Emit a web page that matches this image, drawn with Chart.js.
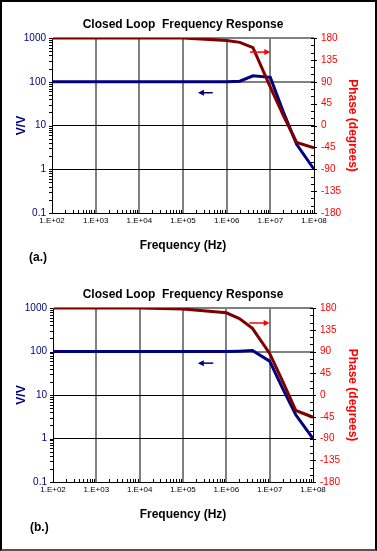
<!DOCTYPE html>
<html>
<head>
<meta charset="utf-8">
<script src="https://cdn.jsdelivr.net/npm/chart.js@4.4.1/dist/chart.umd.min.js"></script>
<style>
  html, body { margin: 0; padding: 0; background: #fff; }
  #frame {
    position: absolute; left: 0; top: 0; width: 377px; height: 551px;
    box-sizing: border-box; border: 2px solid #000; border-bottom-color: #555;
  }
  canvas { position: absolute; left: 0; }
</style>
</head>
<body>
<div id="frame">
  <canvas id="chartA" width="373" height="273" style="top:0"></canvas>
  <canvas id="chartB" width="373" height="274" style="top:273px"></canvas>
</div>
<script>
const freqHz = [1e2, 1e3, 1e4, 1e5, 1e6, 2e6, 4e6, 1e7, 2e7, 4e7, 1e8];

// (a.)
const gainA = [100, 100, 100, 100, 100, 103, 137, 126, 20, 3.7, 1.0];
const phaseA = [180, 180, 180, 180, 175, 171, 160, 79, 20, -35, -46];
// (b.)
const gainB = [100, 100, 100, 100, 100, 102, 105, 60, 14, 3.5, 1.0];
const phaseB = [180, 180, 180, 178, 170, 158, 138, 86, 28, -32, -46];

const xDecades = [1e2, 1e3, 1e4, 1e5, 1e6, 1e7, 1e8];
const gainDecades = [0.1, 1, 10, 100, 1000];

// arrow annotations, in data units: [freq from, freq to, value]
const phaseArrowA = [3.4e6, 1e7, 151];
const gainArrowA = [4.8e5, 2.2e5, 56];
const phaseArrowB = [3.4e6, 1e7, 149];
const gainArrowB = [5e5, 2.2e5, 54];

const NAVY = '#000080';
const MAROON = '#800000';
const RED = '#ff0000';
const FONT = "'Liberation Sans', Arial, sans-serif";

Chart.defaults.font.family = FONT;

function arrow(ctx, x1, x2, y, color) {
  const dir = Math.sign(x2 - x1);
  ctx.save();
  ctx.strokeStyle = color;
  ctx.fillStyle = color;
  ctx.lineWidth = 1.5;
  ctx.beginPath();
  ctx.moveTo(x1, y);
  ctx.lineTo(x2 - dir * 4, y);
  ctx.stroke();
  ctx.beginPath();
  ctx.moveTo(x2, y);
  ctx.lineTo(x2 - dir * 6, y - 3);
  ctx.lineTo(x2 - dir * 6, y + 3);
  ctx.closePath();
  ctx.fill();
  ctx.restore();
}

const decorPlugin = {
  id: 'decor',
  afterDraw(chart, args, opts) {
    const {ctx, chartArea: a} = chart;
    const x = chart.scales.x, y = chart.scales.y, y2 = chart.scales.y2;
    ctx.save();
    ctx.strokeStyle = '#000';
    ctx.lineWidth = 1;
    ctx.beginPath();
    // left axis ticks (outside)
    for (let d = 0.1; d < 1000; d *= 10) {
      for (let m = 1; m < 10; m++) {
        const py = Math.round(y.getPixelForValue(m * d)) + 0.5;
        ctx.moveTo(a.left - 3, py); ctx.lineTo(a.left, py);
      }
    }
    const ty = Math.round(y.getPixelForValue(1000)) + 0.5;
    ctx.moveTo(a.left - 3, ty); ctx.lineTo(a.left, ty);
    // bottom axis minor ticks (inside)
    for (let d = 1e2; d < 1e8; d *= 10) {
      for (let m = 2; m < 10; m++) {
        const px = Math.round(x.getPixelForValue(m * d)) + 0.5;
        ctx.moveTo(px, a.bottom); ctx.lineTo(px, a.bottom - 3);
      }
    }
    // right axis ticks
    for (let v = -180; v <= 180; v += 15) {
      const py = Math.round(y2.getPixelForValue(v)) + 0.5;
      ctx.moveTo(a.right - 3, py);
      ctx.lineTo(v % 45 === 0 ? a.right + 3 : a.right, py);
    }
    ctx.stroke();

    // arrows
    const pa = opts.phaseArrow, ga = opts.gainArrow;
    arrow(ctx, x.getPixelForValue(pa[0]), x.getPixelForValue(pa[1]), y2.getPixelForValue(pa[2]), RED);
    arrow(ctx, x.getPixelForValue(ga[0]), x.getPixelForValue(ga[1]), y.getPixelForValue(ga[2]), NAVY);

    // title and panel tag
    ctx.fillStyle = '#000';
    ctx.font = 'bold 12px ' + FONT;
    ctx.textAlign = 'center';
    ctx.textBaseline = 'middle';
    ctx.fillText('Closed Loop  Frequency Response', (a.left + a.right) / 2, opts.titleY);
    ctx.textAlign = 'left';
    ctx.fillText(opts.tag, a.left - 23, opts.tagY);
    ctx.restore();
  }
};

function makeChart(id, gain, phase, lay) {
  return new Chart(document.getElementById(id), {
    type: 'line',
    data: {
      datasets: [
        {
          label: 'V/V',
          data: freqHz.map((f, i) => ({x: f, y: gain[i]})),
          yAxisID: 'y',
          borderColor: NAVY,
          borderWidth: 3,
          pointRadius: 0,
          order: 1,
        },
        {
          label: 'Phase',
          data: freqHz.map((f, i) => ({x: f, y: phase[i]})),
          yAxisID: 'y2',
          borderColor: MAROON,
          borderWidth: 3,
          pointRadius: 0,
          order: 0,
        }
      ]
    },
    options: {
      responsive: false,
      animation: false,
      layout: {padding: {top: lay.top, left: 0, right: 0, bottom: 0}},
      plugins: {
        legend: {display: false},
        tooltip: {enabled: false},
        decor: {
          titleY: lay.titleY, tag: lay.tag, tagY: lay.tagY,
          phaseArrow: lay.phaseArrow, gainArrow: lay.gainArrow
        }
      },
      scales: {
        x: {
          type: 'logarithmic',
          position: 'bottom',
          min: 1e2, max: 1e8,
          afterBuildTicks: s => { s.ticks = xDecades.map(v => ({value: v})); },
          afterFit: s => { s.height = lay.xHeight; },
          ticks: {
            autoSkip: false, maxRotation: 0, padding: 3,
            color: '#000', font: {size: 8},
            callback: v => '1.E+' + String(Math.round(Math.log10(v))).padStart(2, '0')
          },
          grid: {
            drawTicks: false, lineWidth: 2,
            color: c => (c.tick && (c.tick.value === 1e2 || c.tick.value === 1e8)) ? 'rgba(0,0,0,0)' : '#808080'
          },
          border: {display: true, color: '#000', width: 1},
          title: {
            display: true, text: 'Frequency (Hz)', color: '#000',
            font: {size: 12, weight: 'bold'}, padding: {top: 0, bottom: lay.xTitlePad}
          }
        },
        y: {
          type: 'logarithmic',
          position: 'left',
          min: 0.1, max: 1000,
          afterBuildTicks: s => { s.ticks = gainDecades.map(v => ({value: v})); },
          afterFit: s => { s.width = lay.left; },
          ticks: {color: NAVY, font: {size: 10}, padding: 6, callback: v => String(v)},
          grid: {
            drawTicks: false,
            color: c => {
              const v = c.tick ? c.tick.value : 0;
              if (v === 0.1) return 'rgba(0,0,0,0)';
              return (v === 100 || v === 1000) ? '#808080' : '#000';
            },
            lineWidth: c => (c.tick && (c.tick.value === 100 || c.tick.value === 1000)) ? 2 : 1
          },
          border: {display: true, color: '#000', width: 1},
          title: {
            display: true, text: 'V/V', color: NAVY,
            font: {size: 12, weight: 'bold'}, padding: {top: 12, bottom: 0}
          }
        },
        y2: {
          type: 'linear',
          position: 'right',
          min: -180, max: 180,
          afterFit: s => { s.width = 373 - lay.right; },
          ticks: {stepSize: 45, color: RED, font: {size: 10}, padding: 7},
          grid: {display: false, drawTicks: false},
          border: {display: true, color: '#000', width: 1},
          title: {
            display: true, text: 'Phase (degrees)', color: RED,
            font: {size: 12, weight: 'bold'}, padding: {top: 15, bottom: 0}
          }
        }
      }
    },
    plugins: [decorPlugin]
  });
}

makeChart('chartA', gainA, phaseA, {
  top: 36, left: 50, right: 312, xHeight: 62, xTitlePad: 22,
  titleY: 23, tag: '(a.)', tagY: 256,
  phaseArrow: phaseArrowA, gainArrow: gainArrowA
});
makeChart('chartB', gainB, phaseB, {
  top: 33, left: 51, right: 311, xHeight: 67, xTitlePad: 27,
  titleY: 20, tag: '(b.)', tagY: 253,
  phaseArrow: phaseArrowB, gainArrow: gainArrowB
});
</script>
</body>
</html>
